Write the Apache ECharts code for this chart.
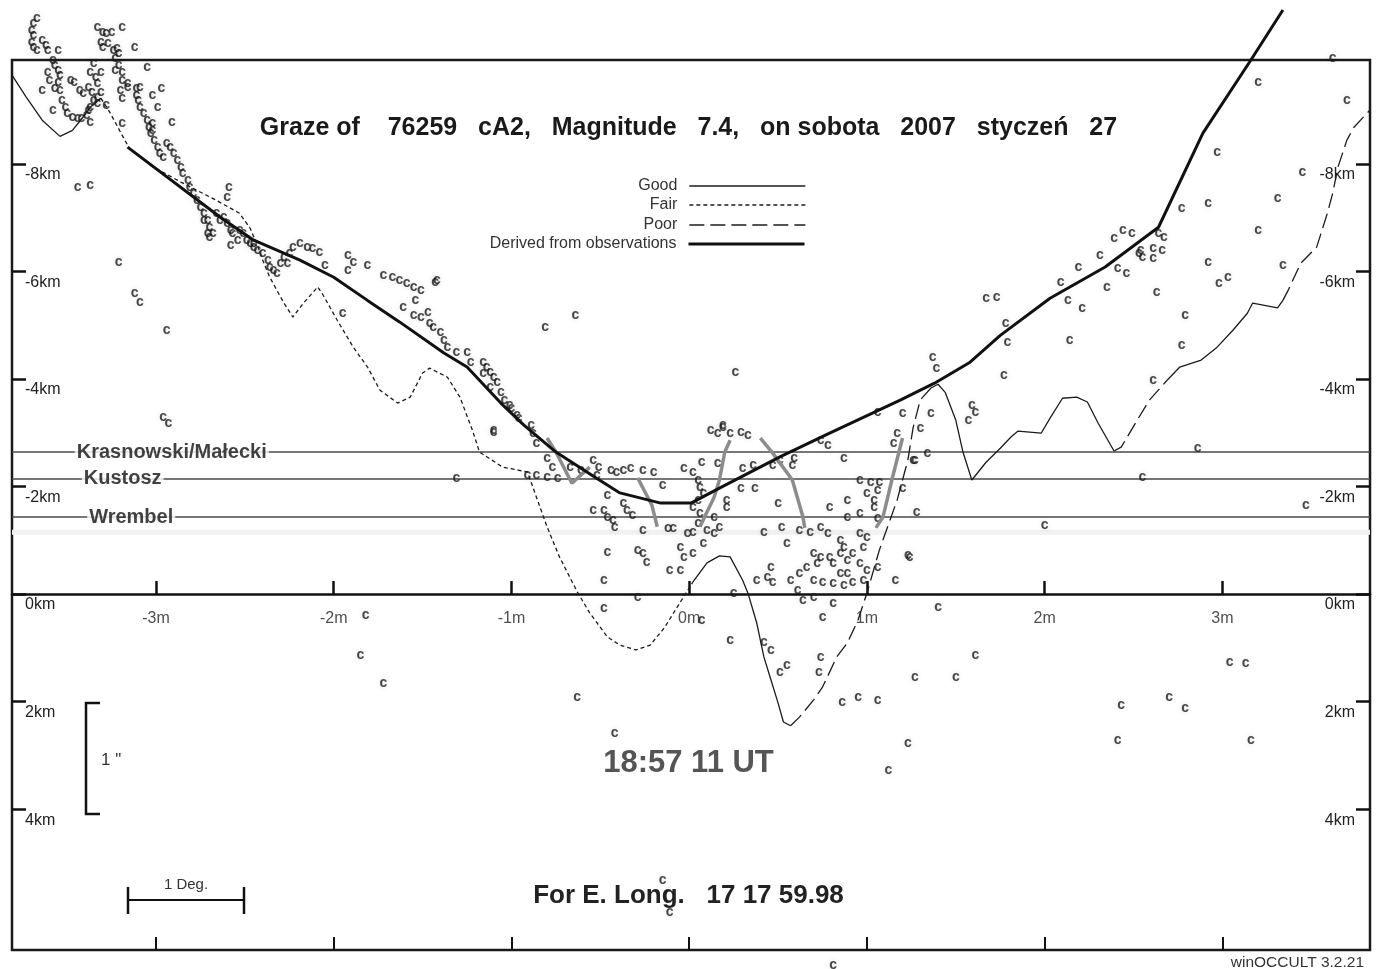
<!DOCTYPE html>
<html><head><meta charset="utf-8">
<script src="https://cdn.jsdelivr.net/npm/echarts@6/dist/echarts.min.js"></script>
<style>html,body{margin:0;padding:0;background:#fff}#c{width:1377px;height:969px}</style>
</head><body><div id="c"></div>
<script>
// ---------- data (minutes from central time, km from predicted limb; negative = north/up) ----------
const xTicks = [-3, -2, -1, 0, 1, 2, 3];
const yTicks = [-8, -6, -4, -2, 0, 2, 4];
const xRange = [-3.81, 3.83];
const yRange = [-9.93, 6.62];

const derived = [[-3.16,-8.31],[-2.64,-7.01],[-2.45,-6.58],[-2.19,-6.21],[-2.00,-5.89],[-1.81,-5.46],[-1.63,-5.06],[-1.38,-4.48],[-1.25,-4.22],[-1.06,-3.55],[-0.93,-3.14],[-0.75,-2.64],[-0.53,-2.17],[-0.39,-1.88],[-0.16,-1.69],[0.01,-1.69],[0.17,-1.97],[0.51,-2.55],[0.79,-2.99],[1.19,-3.61],[1.38,-3.92],[1.58,-4.31],[1.75,-4.81],[2.03,-5.50],[2.34,-6.08],[2.64,-6.82],[2.89,-8.57],[3.16,-9.93],[3.34,-10.86]];

const goodSegs = [
 [[-3.81,-9.65],[-3.73,-9.24],[-3.64,-8.81],[-3.54,-8.51],[-3.47,-8.62],[-3.41,-8.87],[-3.37,-9.05],[-3.31,-9.22]],
 [[0.02,-0.22],[0.10,-0.58],[0.17,-0.71],[0.23,-0.69],[0.30,-0.26],[0.33,-0.02],[0.38,0.54],[0.42,1.17],[0.46,1.60],[0.50,2.03],[0.53,2.38],[0.57,2.45]],
 [[1.36,-3.83],[1.40,-3.90],[1.44,-3.75],[1.50,-3.23],[1.54,-2.64],[1.59,-2.12],[1.67,-2.45],[1.75,-2.71],[1.81,-2.92],[1.85,-3.03],[1.98,-2.99],[2.03,-3.27],[2.10,-3.64],[2.18,-3.66],[2.24,-3.57],[2.30,-3.18],[2.39,-2.66]],
 [[2.69,-3.98],[2.76,-4.22],[2.88,-4.35],[2.97,-4.59],[3.06,-4.91],[3.14,-5.22],[3.17,-5.41],[3.31,-5.32],[3.34,-5.46]]
];
const fairSegs = [
 [[-3.31,-9.22],[-3.26,-8.96],[-3.20,-8.59],[-3.15,-8.29],[-3.03,-7.97],[-2.86,-7.66],[-2.66,-7.32],[-2.53,-7.08],[-2.47,-6.80],[-2.43,-6.49],[-2.40,-6.21],[-2.36,-5.89],[-2.28,-5.41],[-2.23,-5.15],[-2.17,-5.41],[-2.09,-5.71],[-2.06,-5.56],[-1.98,-5.09],[-1.89,-4.59],[-1.81,-4.22],[-1.74,-3.79],[-1.64,-3.55],[-1.57,-3.66],[-1.50,-4.11],[-1.46,-4.20],[-1.36,-4.03],[-1.29,-3.66],[-1.22,-3.05],[-1.18,-2.64],[-1.05,-2.36],[-0.91,-2.27],[-0.88,-1.99],[-0.80,-1.25],[-0.73,-0.69],[-0.63,-0.04],[-0.56,0.35],[-0.46,0.80],[-0.39,0.95],[-0.30,1.04],[-0.22,0.95],[-0.14,0.63],[-0.05,0.15],[0.02,-0.22]]
];
const poorSegs = [
 [[0.57,2.45],[0.62,2.29],[0.70,1.97],[0.75,1.73],[0.83,1.17],[0.89,0.91],[0.95,0.48],[1.00,-0.02],[1.07,-0.82],[1.17,-1.75],[1.23,-2.49],[1.26,-3.10],[1.30,-3.61],[1.36,-3.83]],
 [[2.39,-2.66],[2.43,-2.73],[2.52,-3.23],[2.59,-3.61],[2.69,-3.98]],
 [[3.34,-5.46],[3.37,-5.65],[3.44,-6.15],[3.53,-6.45],[3.59,-7.08],[3.62,-7.45],[3.65,-7.94],[3.70,-8.44],[3.74,-8.68],[3.83,-9.00]]
];

const obsSegs = [
 [[-0.80,-2.90],[-0.75,-2.64],[-0.66,-2.06],[-0.56,-2.36]],
 [[-0.29,-2.16],[-0.21,-1.65],[-0.18,-1.25]],
 [[0.06,-1.25],[0.14,-1.80],[0.17,-2.12],[0.20,-2.64],[0.23,-2.86]],
 [[0.40,-2.90],[0.47,-2.62],[0.58,-2.12],[0.64,-1.43],[0.65,-1.23]],
 [[1.05,-1.23],[1.09,-1.43],[1.14,-2.12],[1.18,-2.64],[1.20,-2.90]]
];

const chordNames = ['Krasnowski/Małecki', 'Kustosz', 'Wrembel'];
const chordKm = [-2.64, -2.14, -1.43];
const chordLabelT = [-3.46, -3.42, -3.39];
const bandKm = -1.15;

const limbPoints = [
 [-3.67,-10.71],[-3.69,-10.61],[-3.70,-10.48],[-3.69,-10.39],[-3.70,-10.26],[-3.69,-10.17],[-3.67,-10.11],[-3.64,-10.30],[-3.62,-10.20],[-3.61,-10.11],[-3.58,-9.93],[-3.55,-10.11],[-3.57,-9.83],[-3.55,-9.74],[-3.54,-9.65],[-3.55,-9.52],[-3.57,-9.41],[-3.54,-9.37],[-3.60,-9.55],[-3.61,-9.70],[-3.64,-9.37],[-3.58,-9.00],[-3.53,-9.18],[-3.51,-9.05],[-3.50,-8.94],[-3.47,-8.87],[-3.44,-8.85],[-3.42,-8.85],[-3.39,-8.90],[-3.37,-8.77],[-3.48,-9.55],[-3.46,-9.52],[-3.43,-9.37],[-3.41,-9.31],[-3.38,-9.42],[-3.36,-9.33],[-3.35,-9.18],[-3.37,-9.05],[-3.38,-9.00],[-3.35,-9.87],[-3.37,-9.70],[-3.34,-9.61],[-3.31,-9.70],[-3.33,-9.50],[-3.31,-9.33],[-3.33,-9.24],[-3.33,-9.13],[-3.28,-9.09],[-3.33,-10.54],[-3.30,-10.45],[-3.28,-10.43],[-3.25,-10.45],[-3.19,-10.54],[-3.12,-10.17],[-3.31,-10.26],[-3.30,-10.17],[-3.27,-10.24],[-3.24,-10.11],[-3.22,-10.15],[-3.21,-10.06],[-3.23,-9.96],[-3.21,-9.83],[-3.19,-9.70],[-3.19,-9.55],[-3.16,-9.50],[-3.16,-9.42],[-3.20,-9.37],[-3.19,-9.22],[-3.23,-9.74],[-3.11,-9.40],[-3.09,-9.42],[-3.02,-9.27],[-2.97,-9.40],[-3.11,-9.27],[-3.10,-9.18],[-3.09,-9.05],[-3.07,-8.94],[-3.05,-8.81],[-3.04,-8.68],[-3.03,-8.57],[-3.02,-8.75],[-3.02,-8.62],[-3.01,-8.44],[-2.99,-8.31],[-2.98,-8.20],[-2.96,-8.12],[-2.94,-8.38],[-2.92,-8.31],[-2.90,-8.20],[-2.88,-8.07],[-2.86,-7.94],[-2.85,-7.83],[-2.82,-7.69],[-2.81,-7.56],[-2.79,-7.45],[-2.77,-7.32],[-2.75,-7.19],[-2.73,-7.08],[-2.71,-6.95],[-2.70,-6.82],[-2.68,-6.71],[-2.66,-7.08],[-2.64,-6.95],[-2.62,-7.01],[-2.60,-6.90],[-2.58,-6.77],[-2.57,-6.71],[-2.54,-6.58],[-2.53,-6.77],[-2.51,-6.71],[-2.49,-6.58],[-2.47,-6.52],[-2.45,-6.45],[-2.71,-6.71],[-2.73,-6.95],[-2.70,-6.64],[-2.59,-7.56],[-2.60,-7.38],[-2.99,-9.05],[-2.91,-8.77],[-3.19,-8.75],[-3.05,-9.80],[-3.44,-7.56],[-3.37,-7.60],
 [-2.58,-6.49],[-2.45,-6.52],[-2.43,-6.39],[-2.40,-6.34],[-2.37,-6.21],[-2.36,-6.08],[-2.34,-6.02],[-2.32,-5.97],[-2.30,-6.15],[-2.28,-6.26],[-2.26,-6.15],[-2.25,-6.34],[-2.23,-6.45],[-2.19,-6.52],[-2.15,-6.45],[-2.12,-6.43],[-2.08,-6.36],[-2.05,-6.12],[-1.92,-6.30],[-1.89,-6.17],[-1.92,-6.02],[-1.81,-6.12],[-1.72,-5.93],[-1.67,-5.89],[-1.63,-5.84],[-1.59,-5.78],[-1.55,-5.71],[-1.51,-5.65],[-1.54,-5.46],[-1.42,-5.84],[-1.61,-5.33],[-1.55,-5.19],[-1.51,-5.15],[-1.47,-5.24],[-1.46,-5.04],[-1.44,-4.96],[-1.40,-4.87],[-1.38,-4.72],[-1.36,-4.59],[-1.31,-4.50],[-1.25,-4.50],[-1.23,-4.31],[-1.16,-4.31],[-1.14,-4.22],[-1.12,-4.13],[-1.10,-4.03],[-1.08,-3.94],[-1.16,-4.11],[-1.12,-3.85],[-1.95,-5.22],[-3.21,-6.17],[-3.12,-5.59],[-3.09,-5.43],[-2.94,-4.91],[-2.96,-3.29],[-2.93,-3.18],[-1.43,-5.80],[-1.10,-3.05],[-1.31,-2.16],[-1.82,0.39],[-1.85,1.13],[-1.72,1.65],[-0.81,-4.96],[-0.64,-5.19],[0.26,-4.13],[-1.06,-3.75],[-1.04,-3.61],[-1.00,-3.46],[-0.96,-3.27],
 [-1.01,-3.51],[-0.97,-3.33],[-0.89,-3.14],[-0.88,-2.99],[-0.86,-2.81],[-1.10,-3.01],[-0.80,-2.53],[-0.77,-2.36],[-0.91,-2.21],[-0.86,-2.21],[-0.80,-2.17],[-0.74,-2.16],[-0.67,-2.36],[-0.61,-2.30],[-0.54,-2.49],[-0.51,-2.36],[-0.52,-2.21],[-0.44,-2.30],[-0.41,-2.27],[-0.37,-2.30],[-0.33,-2.34],[-0.26,-2.30],[-0.20,-2.27],[-0.15,-2.03],[-0.46,-1.84],[-0.54,-1.56],[-0.48,-1.56],[-0.46,-1.43],[-0.43,-1.38],[-0.42,-1.25],[-0.37,-1.69],[-0.35,-1.56],[-0.32,-1.47],[-0.26,-1.19],[-0.12,-1.23],[-0.09,-1.23],[-0.03,-2.34],[0.02,-2.27],[0.07,-2.45],[0.05,-2.12],[0.06,-1.99],[0.08,-1.88],[0.05,-1.75],[0.02,-1.62],[0.06,-1.51],[0.05,-1.32],[0.02,-1.15],[-0.01,-1.13],[-0.05,-0.87],[-0.03,-0.69],[0.02,-0.76],[0.08,-0.95],[0.14,-1.13],[0.10,-1.19],[0.17,-1.25],[0.14,-1.43],[0.21,-1.75],[0.21,-1.62],[0.16,-2.43],[0.12,-3.05],[0.16,-2.99],[0.19,-3.10],[0.23,-2.99],[0.29,-3.01],[0.33,-2.96],[0.19,-3.14],[0.29,-1.97],[0.37,-1.97],[0.30,-2.34],[0.36,-2.40],[0.42,-1.15],[0.50,-1.69],[0.52,-1.25],[0.55,-0.95],[0.47,-2.40],[0.51,-2.49],[0.59,-2.53],[0.58,-2.40],[0.62,-1.19],[0.68,-1.15],[0.74,-1.25],[0.78,-1.13],[0.70,-0.76],[0.74,-0.69],[0.66,-0.50],[0.72,-0.58],[0.79,-0.69],[0.81,-0.58],[0.85,-0.76],[0.89,-0.63],[0.92,-0.76],[0.87,-0.87],[0.96,-0.58],[1.00,-0.45],[1.06,-0.50],[0.85,-1.00],[0.96,-1.13],[1.00,-1.06],[0.98,-0.87],[0.79,-1.62],[0.89,-1.75],[0.89,-1.43],[0.96,-1.51],[1.04,-1.62],[0.96,-2.12],[1.02,-2.08],[1.07,-2.08],[1.00,-1.88],[1.06,-1.93],[1.04,-1.75],[1.06,-1.41],[1.15,-2.81],[1.17,-2.99],[0.87,-2.53],[0.74,-2.86],[0.78,-2.77],[1.06,-3.38],[1.20,-3.36],[1.30,-3.09],[1.36,-3.36],[1.20,-1.97],[1.26,-2.49],[1.28,-1.52],[1.24,-0.69],[1.16,-0.26],[0.62,-0.39],[0.57,-0.26],[0.61,-0.07],[0.70,-0.26],[0.75,-0.22],[0.81,-0.20],[0.87,-0.17],[0.92,-0.22],[0.98,-0.26],[0.85,-0.39],[0.89,-0.39],[0.64,0.11],[0.70,0.06],[0.81,0.17],[0.75,0.43],[0.46,-0.50],[0.44,-0.32],[0.47,-0.22],[0.38,-0.26],[-0.05,-0.45],[-0.11,-0.45],[-0.29,-0.82],[-0.26,-0.76],[-0.24,-0.59],[-0.46,-0.78],[-0.48,-0.26],[-0.29,0.06],[-0.48,0.26],[0.25,-0.02],[1.40,0.24],[1.23,-0.72],[1.27,-2.49],[1.34,-2.62],[0.07,0.48],
 [3.20,-9.52],[2.97,-8.22],[2.77,-7.17],[2.92,-7.27],[2.44,-6.77],[2.49,-6.71],[2.39,-6.62],[2.31,-6.30],[2.19,-6.08],[2.09,-5.80],[2.13,-5.46],[2.21,-5.32],[2.35,-5.71],[2.41,-6.06],[2.46,-5.97],[2.54,-6.39],[2.55,-6.26],[2.61,-6.25],[2.61,-6.43],[2.67,-6.64],[2.66,-6.39],[2.64,-6.71],[2.53,-6.34],[2.92,-6.17],[2.98,-5.78],[3.03,-5.89],[2.63,-5.61],[3.34,-6.12],[3.62,-9.96],[3.70,-9.18],[3.45,-7.84],[3.31,-7.36],[3.20,-6.77],[2.79,-5.19],[1.78,-5.04],[1.79,-4.68],[1.77,-4.07],[2.14,-4.72],[2.77,-4.63],[2.61,-3.98],[2.86,-2.71],[2.55,-2.17],[3.47,-1.65],[2.00,-1.28],[1.37,-4.41],[1.39,-4.20],[1.59,-3.51],[1.61,-3.38],[1.57,-3.23],[1.67,-5.50],[1.73,-5.52],
 [0.23,0.86],[0.42,0.89],[0.46,1.04],[0.51,1.45],[0.55,1.32],[0.74,1.17],[0.73,1.45],[0.86,2.01],[0.95,1.91],[1.06,1.97],[1.23,2.77],[1.12,3.27],[1.27,1.54],[1.50,1.54],[1.61,1.13],[-0.63,1.91],[2.43,2.06],[2.70,1.91],[2.79,2.12],[2.41,2.71],[3.16,2.71],[3.04,1.26],[3.13,1.28],[-0.15,5.32],[-0.11,5.91],[0.81,6.90],[-0.42,2.58]
];

const titleText = 'Graze of    76259   cA2,   Magnitude   7.4,   on sobota   2007   styczeń   27';
const timeText = '18:57 11 UT';
const longText = 'For E. Long.   17 17 59.98';
const versionText = 'winOCCULT 3.2.21';
const legendNames = ['Good', 'Fair', 'Poor', 'Derived from observations'];

// ---------- chart ----------
const SANS = "'Liberation Sans',Arial,sans-serif";
const INK = '#1c1c1c';

const chart = echarts.init(document.getElementById('c'), null, {renderer: 'canvas'});

function lineS(name, data, lineStyle, z) {
  return {type: 'line', name, data, symbol: 'none', clip: false, silent: true,
          animation: false, z, lineStyle, itemStyle: {color: lineStyle.color}, emphasis: {disabled: true}};
}

const series = [];
series.push(lineS('band', [[xRange[0], bandKm], [xRange[1], bandKm]], {color: '#f1f1f1', width: 5}, 1));
chordKm.forEach((k, i) => {
  series.push(lineS('chord' + i, [[xRange[0], k], [xRange[1], k]], {color: '#4a4a4a', width: 1.5}, 2));
});
series.push({
  type: 'scatter', name: 'limb', data: limbPoints, symbolSize: 1, clip: false, silent: true,
  animation: false, z: 3, itemStyle: {color: 'rgba(0,0,0,0)'},
  label: {show: true, position: 'inside', formatter: 'c', fontFamily: SANS, fontWeight: 'bold', fontSize: 14, color: '#1a1a1a',
          textShadowColor: 'rgba(0,0,0,0.18)', textShadowBlur: 5}
});
goodSegs.forEach(s => series.push(lineS('Good', s, {color: INK, width: 1.3, type: 'solid'}, 5)));
fairSegs.forEach(s => series.push(lineS('Fair', s, {color: INK, width: 1.3, type: [4, 3]}, 5)));
poorSegs.forEach(s => series.push(lineS('Poor', s, {color: INK, width: 1.3, type: [15, 6]}, 5)));
obsSegs.forEach(s => series.push(lineS('obs', s, {color: '#8c8c8c', width: 3.5}, 6)));
series.push(lineS('Derived from observations', derived, {color: '#111', width: 3}, 7));
// x tick labels sitting under the 0 km line
series.push({
  type: 'scatter', name: 'xLabels', symbolSize: 1, silent: true, animation: false, z: 8, clip: false,
  itemStyle: {color: 'rgba(0,0,0,0)'},
  data: xTicks.map(t => [t, 0]),
  label: {show: true, position: 'bottom', distance: 16, formatter: p => p.value[0] + 'm',
          fontFamily: SANS, fontSize: 16, color: '#222'}
});
// chord labels
series.push({
  type: 'scatter', name: 'chordLabels', symbolSize: 1, silent: true, animation: false, z: 8,
  itemStyle: {color: 'rgba(0,0,0,0)'},
  data: chordNames.map((n, i) => ({value: [chordLabelT[i], chordKm[i]], name: n})),
  label: {show: true, position: 'right', distance: 0, formatter: p => p.name,
          fontFamily: SANS, fontWeight: 'bold', fontSize: 20, color: '#111',
          backgroundColor: '#fff', padding: [0, 2]}
});

const legendTops = [178, 197, 217, 236];
const legendLines = [
  {color: INK, width: 1.3, type: 'solid'},
  {color: INK, width: 1.3, type: [4, 3]},
  {color: INK, width: 1.3, type: [15, 6]},
  {color: '#111', width: 3, type: 'solid'}
];
const legends = legendNames.map((n, i) => ({
  data: [n], orient: 'vertical', align: 'right', right: 571, top: legendTops[i], padding: 0,
  itemWidth: 116, itemHeight: 12, selectedMode: false,
  itemStyle: {color: 'rgba(0,0,0,0)', borderWidth: 0, opacity: 0},
  lineStyle: legendLines[i],
  textStyle: {fontFamily: SANS, fontSize: 16, color: '#333', padding: [0, 7, 0, 0]}
}));

const axisTickStyle = {color: '#111', width: 2.5};
chart.setOption({
  backgroundColor: '#fff',
  animation: false,
  title: [
    {text: titleText, left: 'center', top: 111, textStyle: {fontFamily: SANS, fontWeight: 'bold', fontSize: 25, color: '#1a1a1a'}},
    {text: timeText, left: 'center', top: 743, textStyle: {fontFamily: SANS, fontWeight: 'bold', fontSize: 31, color: '#555'}},
    {text: longText, left: 'center', top: 878, textStyle: {fontFamily: SANS, fontWeight: 'bold', fontSize: 26, color: '#222'}},
    {text: versionText, right: 8, top: 950, textStyle: {fontFamily: SANS, fontWeight: 'normal', fontSize: 15.5, color: '#333'}}
  ],
  legend: legends,
  grid: {left: 12, right: 7, top: 60, bottom: 19, show: true, borderColor: '#1a1a1a', borderWidth: 2.5,
         backgroundColor: 'transparent', outerBoundsMode: 'none'},
  xAxis: [
    {type: 'value', min: xRange[0], max: xRange[1], position: 'bottom',
     axisLine: {show: true, onZero: true, lineStyle: {color: '#111', width: 2.5}},
     axisTick: {show: true, inside: true, length: 13, customValues: xTicks, lineStyle: axisTickStyle},
     axisLabel: {show: false},
     splitLine: {show: false}},
    {type: 'value', min: xRange[0], max: xRange[1], position: 'bottom',
     axisLine: {show: false, onZero: false},
     axisTick: {show: true, inside: true, length: 13, customValues: xTicks, lineStyle: {color: '#111', width: 2}},
     axisLabel: {show: false}, splitLine: {show: false}}
  ],
  yAxis: [
    {type: 'value', min: yRange[0], max: yRange[1], inverse: true, position: 'left',
     axisLine: {show: false, onZero: false},
     axisTick: {show: true, inside: true, length: 14, customValues: yTicks, lineStyle: axisTickStyle},
     axisLabel: {show: true, inside: true, customValues: yTicks, formatter: v => v + 'km', margin: 13,
                 align: 'left', verticalAlign: 'top', padding: [3, 0, 0, 0],
                 fontFamily: SANS, fontSize: 16, color: '#222'},
     splitLine: {show: false}},
    {type: 'value', min: yRange[0], max: yRange[1], inverse: true, position: 'right',
     axisLine: {show: false, onZero: false},
     axisTick: {show: true, inside: true, length: 14, customValues: yTicks, lineStyle: axisTickStyle},
     axisLabel: {show: true, inside: true, customValues: yTicks, formatter: v => v + 'km', margin: 15,
                 align: 'right', verticalAlign: 'top', padding: [3, 0, 0, 0],
                 fontFamily: SANS, fontSize: 16, color: '#222'},
     splitLine: {show: false}}
  ],
  graphic: [
    {type: 'polyline', shape: {points: [[100, 703], [86, 703], [86, 814], [100, 814]]},
     style: {stroke: '#111', lineWidth: 2.5, fill: null}, silent: true},
    {type: 'text', x: 101, y: 760, style: {text: '1 "', fontFamily: SANS, fontSize: 17, fill: '#333', verticalAlign: 'middle'}, silent: true},
    {type: 'line', shape: {x1: 128, y1: 900, x2: 244, y2: 900}, style: {stroke: '#111', lineWidth: 2}, silent: true},
    {type: 'line', shape: {x1: 128, y1: 887, x2: 128, y2: 914}, style: {stroke: '#111', lineWidth: 2.5}, silent: true},
    {type: 'line', shape: {x1: 244, y1: 887, x2: 244, y2: 914}, style: {stroke: '#111', lineWidth: 2.5}, silent: true},
    {type: 'text', x: 186, y: 885, style: {text: '1 Deg.', fontFamily: SANS, fontSize: 15, fill: '#333', align: 'center', verticalAlign: 'middle'}, silent: true}
  ],
  series
});
</script>
</body></html>
